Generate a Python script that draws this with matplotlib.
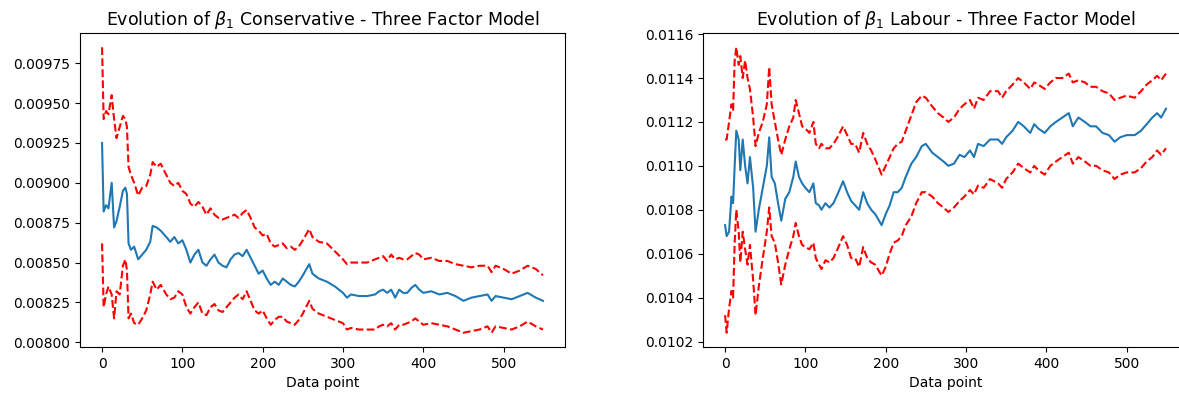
import matplotlib
matplotlib.use("Agg")
import matplotlib.pyplot as plt

# --- Conservative panel ---
cons_x = [0, 2, 5, 8, 12, 15, 18, 22, 26, 29,
          31, 33, 36, 40, 45, 50, 55, 60, 63, 68,
          73, 80, 85, 90, 95, 100, 105, 110, 115, 120,
          125, 130, 135, 140, 145, 150, 155, 160, 165, 170,
          175, 180, 185, 190, 195, 200, 205, 210, 215, 220,
          225, 230, 235, 240, 245, 250, 258, 262, 270, 280,
          290, 300, 305, 310, 320, 330, 340, 345, 350, 355,
          360, 365, 370, 375, 380, 385, 390, 395, 400, 410,
          420, 430, 440, 450, 460, 470, 480, 485, 490, 500,
          510, 520, 530, 540, 549]
cons_beta = [0.00925, 0.00882, 0.00886, 0.00884, 0.00900, 0.00872, 0.00876, 0.00885, 0.00895, 0.00897,
             0.00893, 0.00862, 0.00858, 0.00860, 0.00852, 0.00855, 0.00858, 0.00863, 0.00873, 0.00872,
             0.00870, 0.00866, 0.00863, 0.00866, 0.00862, 0.00864, 0.00858, 0.00850, 0.00855, 0.00858,
             0.00850, 0.00848, 0.00852, 0.00855, 0.00850, 0.00848, 0.00847, 0.00852, 0.00855, 0.00856,
             0.00854, 0.00858, 0.00853, 0.00848, 0.00843, 0.00845, 0.00840, 0.00836, 0.00838, 0.00836,
             0.00840, 0.00838, 0.00836, 0.00835, 0.00838, 0.00842, 0.00849, 0.00843, 0.00840, 0.00838,
             0.00835, 0.00831, 0.00828, 0.00830, 0.00829, 0.00829, 0.00830, 0.00832, 0.00833, 0.00831,
             0.00833, 0.00828, 0.00833, 0.00831, 0.00831, 0.00834, 0.00836, 0.00833, 0.00831, 0.00832,
             0.00830, 0.00831, 0.00829, 0.00826, 0.00828, 0.00829, 0.00830, 0.00826, 0.00829, 0.00828,
             0.00827, 0.00829, 0.00831, 0.00828, 0.00826]
cons_upper = [0.00985, 0.00940, 0.00945, 0.00943, 0.00955, 0.00940, 0.00928, 0.00935, 0.00942, 0.00940,
              0.00935, 0.00910, 0.00905, 0.00900, 0.00892, 0.00897, 0.00898, 0.00905, 0.00913, 0.00910,
              0.00912, 0.00905, 0.00900, 0.00898, 0.00900, 0.00895, 0.00893, 0.00887, 0.00885, 0.00888,
              0.00885, 0.00880, 0.00884, 0.00880, 0.00878, 0.00877, 0.00878, 0.00879, 0.00880, 0.00878,
              0.00881, 0.00883, 0.00878, 0.00872, 0.00870, 0.00867, 0.00868, 0.00862, 0.00860, 0.00861,
              0.00862, 0.00859, 0.00860, 0.00858, 0.00860, 0.00864, 0.00871, 0.00866, 0.00863, 0.00862,
              0.00857, 0.00852, 0.00849, 0.00850, 0.00850, 0.00850, 0.00852, 0.00853, 0.00854, 0.00851,
              0.00855, 0.00852, 0.00853, 0.00852, 0.00852, 0.00854, 0.00856, 0.00855, 0.00852, 0.00853,
              0.00851, 0.00851, 0.00849, 0.00848, 0.00847, 0.00848, 0.00848, 0.00844, 0.00848, 0.00846,
              0.00843, 0.00845, 0.00848, 0.00846, 0.00842]
cons_lower = [0.00862, 0.00822, 0.00830, 0.00835, 0.00830, 0.00815, 0.00832, 0.00830, 0.00848, 0.00852,
              0.00845, 0.00815, 0.00818, 0.00812, 0.00811, 0.00815, 0.00820, 0.00830, 0.00838, 0.00833,
              0.00836, 0.00830, 0.00827, 0.00828, 0.00832, 0.00830, 0.00822, 0.00818, 0.00822, 0.00825,
              0.00818, 0.00817, 0.00822, 0.00824, 0.00820, 0.00819, 0.00822, 0.00825, 0.00828, 0.00830,
              0.00827, 0.00832, 0.00826, 0.00820, 0.00818, 0.00820, 0.00815, 0.00811, 0.00814, 0.00816,
              0.00816, 0.00813, 0.00812, 0.00811, 0.00814, 0.00818, 0.00826, 0.00821, 0.00818, 0.00816,
              0.00814, 0.00812, 0.00808, 0.00809, 0.00808, 0.00808, 0.00808, 0.00810, 0.00811, 0.00810,
              0.00812, 0.00808, 0.00811, 0.00811, 0.00812, 0.00813, 0.00815, 0.00813, 0.00811, 0.00812,
              0.00811, 0.00810, 0.00808, 0.00806, 0.00807, 0.00808, 0.00810, 0.00806, 0.00810, 0.00809,
              0.00808, 0.00810, 0.00813, 0.00810, 0.00808]

# --- Labour panel ---
lab_x = [0, 2, 5, 8, 10, 12, 14, 17, 19, 22,
         25, 28, 31, 35, 38, 42, 47, 52, 55, 58,
         62, 66, 70, 75, 80, 85, 88, 92, 96, 100,
         105, 110, 113, 117, 120, 125, 130, 135, 140, 147,
         152, 157, 162, 167, 172, 177, 182, 187, 195, 200,
         205, 210, 215, 220, 225, 232, 238, 245, 250, 258,
         265, 272, 278, 285, 292, 298, 305, 310, 315, 322,
         330, 340, 345, 350, 358, 365, 372, 380, 385, 390,
         398, 405, 412, 420, 428, 433, 440, 448, 455, 462,
         470, 478, 485, 492, 500, 510, 518, 525, 532, 538,
         543, 549]
lab_beta = [0.01073, 0.01068, 0.01070, 0.01086, 0.01083, 0.01100, 0.01116, 0.01112, 0.01098, 0.01112,
            0.01100, 0.01092, 0.01104, 0.01090, 0.01070, 0.01080, 0.01090, 0.01100, 0.01113, 0.01095,
            0.01092, 0.01083, 0.01075, 0.01085, 0.01088, 0.01095, 0.01102, 0.01095, 0.01092, 0.01090,
            0.01088, 0.01092, 0.01083, 0.01082, 0.01080, 0.01083, 0.01081, 0.01083, 0.01087, 0.01093,
            0.01088, 0.01084, 0.01082, 0.01080, 0.01088, 0.01083, 0.01080, 0.01078, 0.01073, 0.01078,
            0.01082, 0.01088, 0.01088, 0.01090, 0.01095, 0.01101, 0.01104, 0.01109, 0.01110, 0.01106,
            0.01104, 0.01102, 0.01100, 0.01101, 0.01105, 0.01104, 0.01107, 0.01104, 0.01110, 0.01109,
            0.01112, 0.01112, 0.01110, 0.01113, 0.01116, 0.01120, 0.01118, 0.01115, 0.01119, 0.01117,
            0.01115, 0.01118, 0.01120, 0.01122, 0.01124, 0.01118, 0.01122, 0.01120, 0.01118, 0.01118,
            0.01115, 0.01114, 0.01111, 0.01113, 0.01114, 0.01114, 0.01116, 0.01119, 0.01122, 0.01124,
            0.01122, 0.01126]
lab_upper = [0.01112, 0.01112, 0.01120, 0.01128, 0.01125, 0.01148, 0.01154, 0.01146, 0.01150, 0.01140,
             0.01148, 0.01140, 0.01135, 0.01122, 0.01109, 0.01115, 0.01120, 0.01128, 0.01145, 0.01128,
             0.01120, 0.01112, 0.01105, 0.01112, 0.01118, 0.01122, 0.01130, 0.01124, 0.01118, 0.01117,
             0.01115, 0.01120, 0.01110, 0.01108, 0.01110, 0.01108, 0.01108, 0.01110, 0.01113, 0.01118,
             0.01114, 0.01110, 0.01110, 0.01106, 0.01115, 0.01110, 0.01107, 0.01103, 0.01096, 0.01100,
             0.01104, 0.01108, 0.01110, 0.01111, 0.01116, 0.01123, 0.01129, 0.01132, 0.01131, 0.01127,
             0.01124, 0.01122, 0.01120, 0.01122, 0.01126, 0.01128, 0.01130, 0.01126, 0.01131, 0.01130,
             0.01134, 0.01134, 0.01131, 0.01134, 0.01137, 0.01140, 0.01138, 0.01135, 0.01138, 0.01137,
             0.01135, 0.01138, 0.01140, 0.01140, 0.01142, 0.01138, 0.01139, 0.01138, 0.01136, 0.01136,
             0.01134, 0.01133, 0.01130, 0.01131, 0.01132, 0.01131, 0.01134, 0.01137, 0.01139, 0.01141,
             0.01139, 0.01142]
lab_lower = [0.01032, 0.01024, 0.01035, 0.01043, 0.01040, 0.01065, 0.01080, 0.01070, 0.01056, 0.01070,
             0.01062, 0.01055, 0.01064, 0.01048, 0.01032, 0.01045, 0.01058, 0.01070, 0.01081, 0.01068,
             0.01065, 0.01056, 0.01046, 0.01055, 0.01062, 0.01068, 0.01074, 0.01068, 0.01064, 0.01063,
             0.01062, 0.01065, 0.01058, 0.01055, 0.01053, 0.01057, 0.01056, 0.01058, 0.01062, 0.01068,
             0.01064, 0.01058, 0.01058, 0.01054, 0.01063, 0.01058, 0.01056, 0.01055, 0.01050, 0.01054,
             0.01060, 0.01065, 0.01066, 0.01068, 0.01073, 0.01077, 0.01083, 0.01088, 0.01088, 0.01086,
             0.01083, 0.01081, 0.01079, 0.01081, 0.01084, 0.01086, 0.01089, 0.01087, 0.01091, 0.01090,
             0.01094, 0.01092, 0.01090, 0.01094, 0.01097, 0.01101, 0.01099, 0.01097, 0.01100, 0.01098,
             0.01096, 0.01100, 0.01102, 0.01104, 0.01106, 0.01101, 0.01104, 0.01102, 0.01100, 0.01100,
             0.01098, 0.01097, 0.01094, 0.01096, 0.01097, 0.01097, 0.01099, 0.01102, 0.01104, 0.01107,
             0.01105, 0.01108]

panels = [
    (cons_x, cons_beta, cons_upper, cons_lower, "Conservative"),
    (lab_x, lab_beta, lab_upper, lab_lower, "Labour"),
]

fig = plt.figure(figsize=(11.79, 3.94), dpi=100)
axes = [fig.add_axes([80/1179, 47/394, 485/1179, 314/394]),
        fig.add_axes([703/1179, 47/394, 485/1179, 314/394])]

for ax, (x, b, up, lo, party) in zip(axes, panels):
    ax.plot(x, b)
    ax.plot(x, up, 'r--')
    ax.plot(x, lo, 'r--')
    ax.set_xlabel("Data point")
    ax.set_title(r"Evolution of $\beta_1$ " + party + " - Three Factor Model", fontsize=12.5)

axes[0].set_yticks([0.008, 0.00825, 0.0085, 0.00875, 0.009, 0.00925, 0.0095, 0.00975])
axes[0].set_yticklabels(["0.00800", "0.00825", "0.00850", "0.00875",
                         "0.00900", "0.00925", "0.00950", "0.00975"])

fig.savefig("out.png", dpi=100)
